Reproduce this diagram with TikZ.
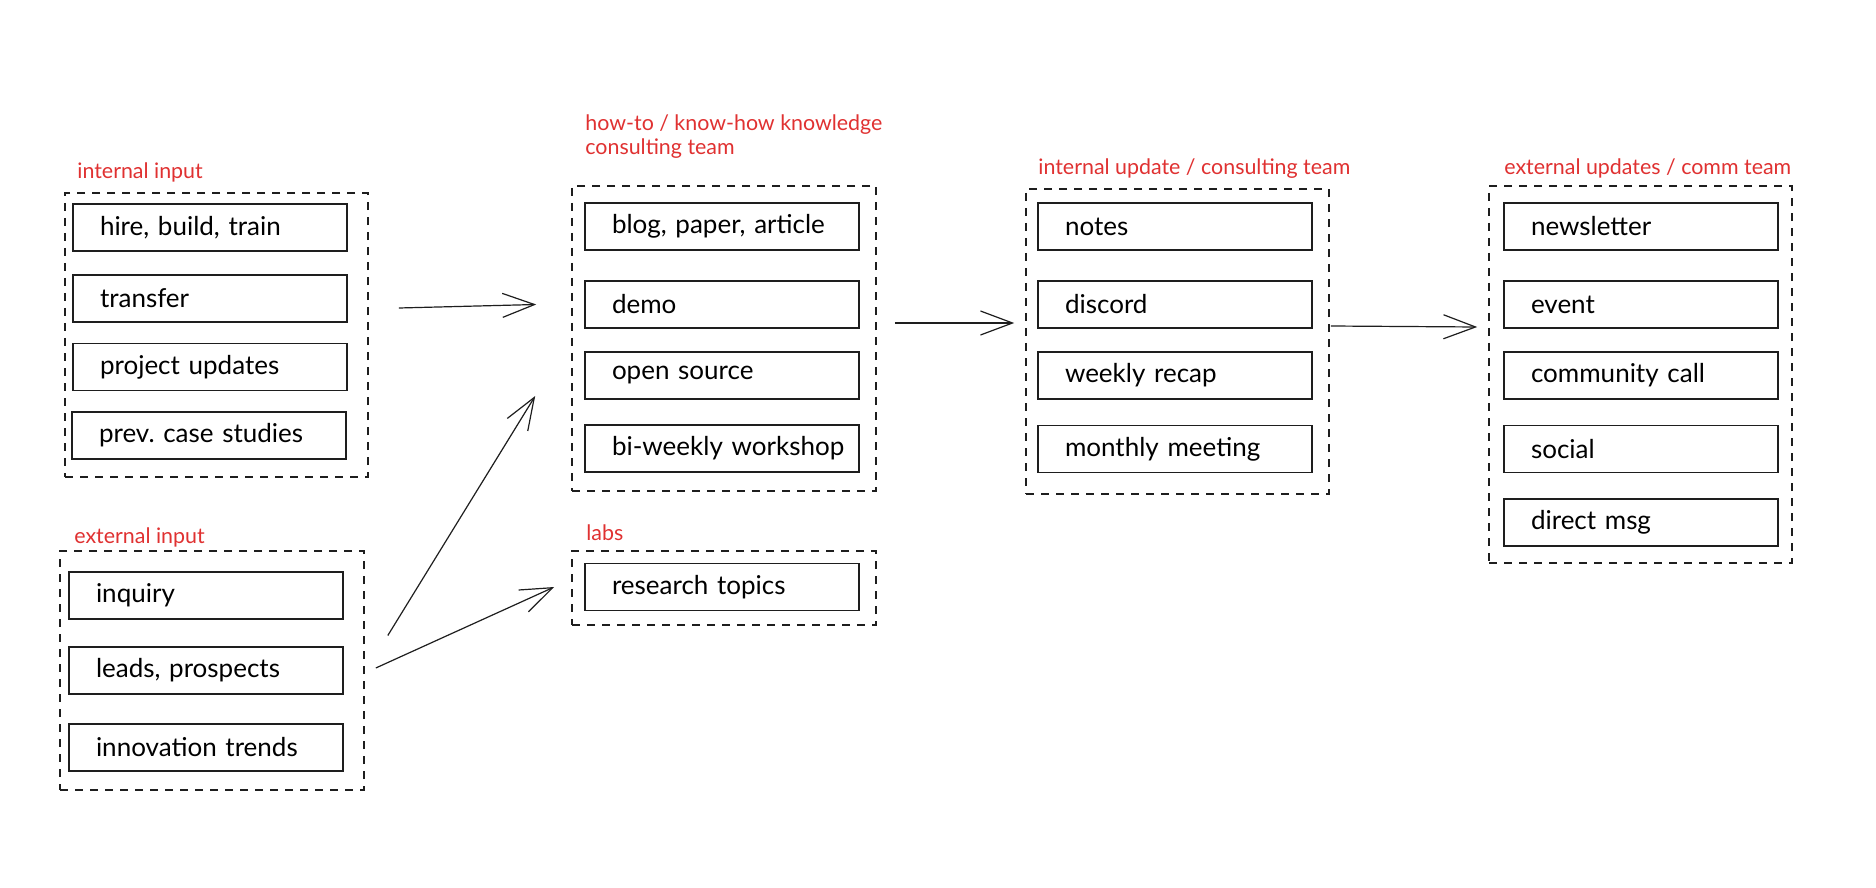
\documentclass[tikz,border=0pt]{standalone}
\usepackage{fontspec}
\setmainfont{Lato}
\usetikzlibrary{arrows.meta}
\definecolor{notered}{HTML}{E03131}
\definecolor{inkline}{HTML}{1E1E1E}
\frenchspacing

\begin{document}
\begin{tikzpicture}[x=0.5pt, y=-0.5pt,
  item/.style = {shape=rectangle, draw=inkline, line width=0.8pt,
    minimum width=137pt, minimum height=23.5pt, inner xsep=0pt,
    text width=137pt, align=left, font=\fontsize{13}{15}\selectfont,
    execute at begin node={\hspace*{13.5pt}}},
  group/.style = {shape=rectangle, draw=inkline, line width=0.8pt,
    dash pattern=on 4pt off 3.5pt, inner sep=0pt},
  note/.style = {anchor=base west, text=notered, inner sep=0pt,
    font=\fontsize{10.7}{12}\selectfont, align=left},
  flow/.style = {-{Straight Barb[length=16pt,width=12pt]},
    line width=0.6pt, draw=inkline}]
  \fill[white] (0,0) rectangle (1876,888);
  \useasboundingbox (0,0) rectangle (1876,888);

  % inputs
  \node[group, minimum width=151.5pt, minimum height=142pt] (gin) at (216.5,335) {};
  \node[note] (lin) at (77,178) {internal input};
  \node[item] (hire) at (210,227.5) {hire, build, train};
  \node[item] (transfer) at (210,298.5) {transfer};
  \node[item] (projupd) at (210,367) {project updates};
  \node[item] (cases) at (209,435.5) {prev. case studies};

  \node[group, minimum width=152pt, minimum height=119.5pt] (gext) at (212,670.5) {};
  \node[note] (lext) at (74,543) {external input};
  \node[item] (inquiry) at (206,595.5) {inquiry};
  \node[item] (leads) at (206,670.5) {leads, prospects};
  \node[item] (trends) at (206,747.5) {innovation trends};

  % consulting team
  \node[group, minimum width=152pt, minimum height=152.5pt] (ghow) at (724,338.5) {};
  \node[note] (lhow) at (585,155) {how-to / know-how knowledge\\consulting team};
  \node[item] (blog) at (722,226.5) {blog, paper, article};
  \node[item] (demo) at (722,304.5) {demo};
  \node[item] (oss) at (722,375.5) {open source};
  \node[item] (workshop) at (722,448.5) {bi-weekly workshop};

  \node[group, minimum width=152pt, minimum height=37pt] (glabs) at (724,588) {};
  \node[note] (llabs) at (586,540) {labs};
  \node[item] (research) at (722,587) {research topics};

  \node[group, minimum width=151.5pt, minimum height=152.5pt] (gint) at (1177.5,341.5) {};
  \node[note] (lint) at (1038,175) {internal update / consulting team};
  \node[item] (notes) at (1175,226.5) {notes};
  \node[item] (discord) at (1175,304.5) {discord};
  \node[item] (recap) at (1175,375.5) {weekly recap};
  \node[item] (monthly) at (1175,449) {monthly meeting};

  % comm team
  \node[group, minimum width=151.5pt, minimum height=188.5pt] (gcomm) at (1640.5,374.5) {};
  \node[note] (lcomm) at (1504,175) {external updates / comm team};
  \node[item] (letter) at (1641,226.5) {newsletter};
  \node[item] (event) at (1641,304.5) {event};
  \node[item] (call) at (1641,375.5) {community call};
  \node[item] (social) at (1641,449) {social};
  \node[item] (dm) at (1641,522.5) {direct msg};

  \draw[flow] ([shift={(30,-27)}]gin.east) -- ([shift={(-35,-34)}]ghow.west);
  \draw[flow] ([shift={(23,-35)}]gext.east) -- ([shift={(-36,57.5)}]ghow.west);
  \draw[flow] ([shift={(11,-2.5)}]gext.east) -- ([shift={(-17,-1)}]glabs.west);
  \draw[flow] ([shift={(18,-15.5)}]ghow.east) -- ([shift={(-11,-18.5)}]gint.west);
  \draw[flow] ([shift={(1,-15.5)}]gint.east) -- ([shift={(-11,-47.5)}]gcomm.west);
\end{tikzpicture}
\end{document}
